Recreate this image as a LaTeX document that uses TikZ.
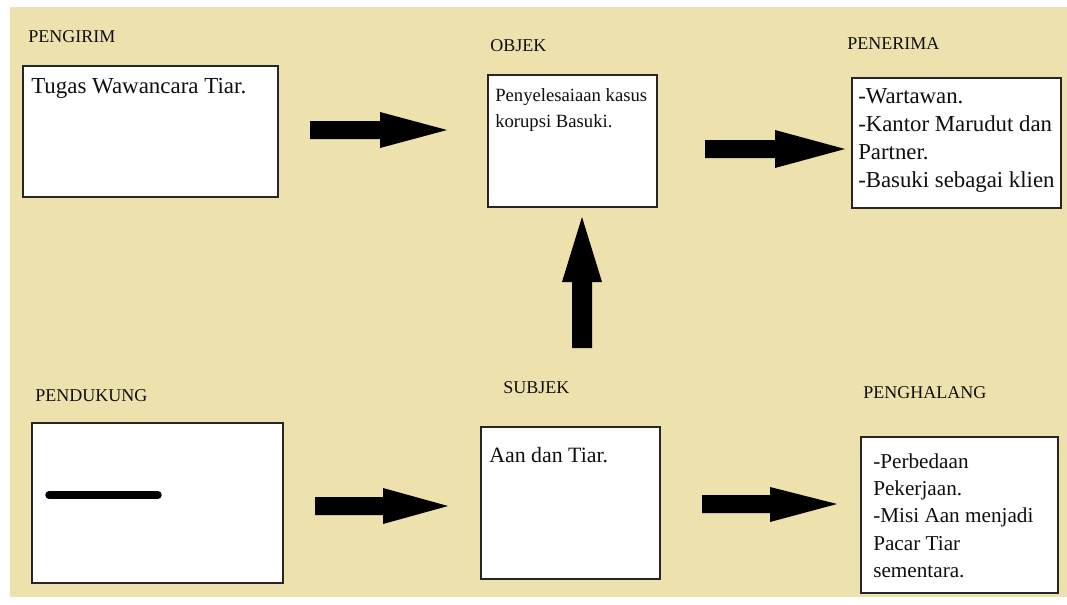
\documentclass[tikz,border=0pt]{standalone}
\usepackage{fontspec}
\setmainfont{Liberation Serif}
\definecolor{paper}{RGB}{237,225,173}
\definecolor{edge}{RGB}{38,38,38}
\definecolor{ink}{RGB}{15,15,15}
\begin{document}
\begin{tikzpicture}[x=0.75pt,y=-0.75pt,
  panel/.style={draw=edge, line width=1.3pt, fill=white, anchor=north west, inner sep=0pt, outer sep=0pt},
  heading/.style={anchor=base west, inner sep=0pt, text=ink, font=\fontsize{13.5}{16}\selectfont},
  body/.style={anchor=base west, inner sep=0pt, text=ink},
  blockarrow/.style={fill=black},
]
% page and paper
\useasboundingbox (0,0) rectangle (1067,604);
\fill[white] (0,0) rectangle (1067,604);
\fill[paper] (10,7) rectangle (1067,597);

% headings
\node[heading] (hsend) at (28,42) {PENGIRIM};
\node[heading] (hobj)  at (490,51) {OBJEK};
\node[heading] (hrecv) at (847,49) {PENERIMA};
\node[heading] (hsup)  at (35,401) {PENDUKUNG};
\node[heading] (hsubj) at (503,393) {SUBJEK};
\node[heading] (hopp)  at (863,398) {PENGHALANG};

% boxes
\node[panel, minimum width=191.25pt, minimum height=98.25pt] (send) at (23,66) {};
\node[panel, minimum width=126.75pt, minimum height=99pt]    (obj)  at (488,75) {};
\node[panel, minimum width=156.75pt, minimum height=97.5pt]  (recv) at (852,78) {};
\node[panel, minimum width=188.25pt, minimum height=120pt]   (sup)  at (32,423) {};
\node[panel, minimum width=134.25pt, minimum height=114pt]   (subj) at (481,427) {};
\node[panel, minimum width=147.75pt, minimum height=117pt]   (opp)  at (861,437) {};
\draw[edge, line width=1.9pt] (subj.north west) -- (subj.north east);

% box contents
\node[body, font=\fontsize{17.2}{21}\selectfont] (tsend) at (31,93) {Tugas Wawancara Tiar.};
\node[body] (tobj) at (495,101)
  {\parbox[t]{130pt}{\fontsize{14}{19.5}\selectfont\raggedright Penyelesaiaan kasus\\korupsi Basuki.}};
\node[body] (trecv) at (858,103)
  {\parbox[t]{160pt}{\fontsize{17.1}{21}\selectfont\raggedright -Wartawan.\\-Kantor Marudut dan\\Partner.\\-Basuki sebagai klien}};
\node[body, font=\fontsize{16.4}{21}\selectfont] (tsubj) at (489,462) {Aan dan Tiar.};
\node[body] (topp) at (873,468)
  {\parbox[t]{140pt}{\fontsize{15.9}{20.6}\selectfont\raggedright -Perbedaan\\Pekerjaan.\\-Misi Aan menjadi\\Pacar Tiar\\sementara.}};

% stroke inside the supporter box
\coordinate (ls) at (49,495);
\coordinate (le) at (158,495);
\draw[black, line width=5.6pt, line cap=round] (ls) -- (le);

% block arrows: sender -> object, object -> receiver
\fill[blockarrow] (310,121) -- (380,121) -- (380,112) -- (447,130) -- (380,148) -- (380,139) -- (310,139) -- cycle;
\fill[blockarrow] (705,140) -- (775,140) -- (775,130) -- (845,149) -- (775,168) -- (775,158) -- (705,158) -- cycle;
% subject -> object
\fill[blockarrow] (572,348) -- (572,282) -- (562,282) -- (582,217) -- (602,282) -- (592,282) -- (592,348) -- cycle;
% supporter -> subject, subject -> opponent
\fill[blockarrow] (315,497) -- (383,497) -- (383,488) -- (448,506) -- (383,524) -- (383,515) -- (315,515) -- cycle;
\fill[blockarrow] (702,495) -- (770,495) -- (770,487) -- (837,504) -- (770,522) -- (770,513) -- (702,513) -- cycle;
\end{tikzpicture}
\end{document}
